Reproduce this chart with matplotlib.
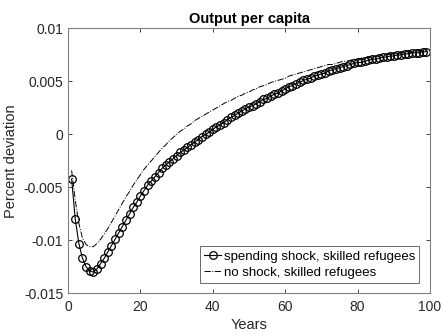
import numpy as np
import matplotlib
matplotlib.use('Agg')
import matplotlib.pyplot as plt

plt.rcParams['font.family'] = ['Liberation Sans', 'DejaVu Sans']

years = list(range(1, 100))

spending_shock = [
    -0.0042, -0.0080, -0.0103, -0.0117, -0.0125, -0.0129, -0.0130, -0.0127, -0.0122, -0.0117,
    -0.0111, -0.0105, -0.0099, -0.0093, -0.0087, -0.0081, -0.0075, -0.0069, -0.0064, -0.0058,
    -0.0053, -0.0048, -0.0044, -0.0040, -0.0036, -0.0032, -0.0029, -0.0026, -0.0023, -0.0020,
    -0.0017, -0.0015, -0.0012, -0.0010, -0.0007, -0.0005, -0.0002, 0.0000, 0.0002, 0.0005,
    0.0007, 0.0009, 0.0011, 0.0014, 0.0016, 0.0018, 0.0020, 0.0022, 0.0024, 0.0026,
    0.0027, 0.0029, 0.0031, 0.0033, 0.0034, 0.0036, 0.0038, 0.0039, 0.0041, 0.0043,
    0.0045, 0.0046, 0.0048, 0.0049, 0.0051, 0.0052, 0.0053, 0.0055, 0.0056, 0.0057,
    0.0058, 0.0060, 0.0061, 0.0062, 0.0063, 0.0064, 0.0065, 0.0066, 0.0067, 0.0068,
    0.0068, 0.0069, 0.0070, 0.0071, 0.0071, 0.0072, 0.0073, 0.0073, 0.0074, 0.0074,
    0.0075, 0.0075, 0.0076, 0.0076, 0.0077, 0.0077, 0.0077, 0.0078, 0.0078,
]

no_shock = [
    -0.0034, -0.0062, -0.0084, -0.0098, -0.0104, -0.0106, -0.0106, -0.0103, -0.0099, -0.0094,
    -0.0089, -0.0083, -0.0077, -0.0071, -0.0065, -0.0059, -0.0054, -0.0048, -0.0043, -0.0038,
    -0.0033, -0.0029, -0.0025, -0.0021, -0.0017, -0.0013, -0.0010, -0.0006, -0.0003, 0.0000,
    0.0003, 0.0005, 0.0008, 0.0010, 0.0013, 0.0015, 0.0017, 0.0019, 0.0021, 0.0023,
    0.0025, 0.0027, 0.0029, 0.0031, 0.0032, 0.0034, 0.0036, 0.0037, 0.0039, 0.0040,
    0.0042, 0.0043, 0.0045, 0.0046, 0.0047, 0.0049, 0.0050, 0.0051, 0.0052, 0.0053,
    0.0055, 0.0056, 0.0057, 0.0058, 0.0059, 0.0060, 0.0061, 0.0062, 0.0063, 0.0064,
    0.0065, 0.0066, 0.0066, 0.0067, 0.0068, 0.0069, 0.0069, 0.0070, 0.0071, 0.0071,
    0.0072, 0.0072, 0.0073, 0.0073, 0.0074, 0.0074, 0.0075, 0.0075, 0.0076, 0.0076,
    0.0076, 0.0077, 0.0077, 0.0077, 0.0078, 0.0078, 0.0078, 0.0079, 0.0079,
]

x_ticks = [0, 20, 40, 60, 80, 100]
y_ticks = [-0.015, -0.01, -0.005, 0, 0.005, 0.01]
y_tick_labels = ['-0.015', '-0.01', '-0.005', '0', '0.005', '0.01']

gray = '#262626'

fig = plt.figure(figsize=(4.43, 3.35), dpi=100)
ax = fig.add_axes([0.1535, 0.1245, 0.8172, 0.7905])

ax.plot(years, spending_shock, color='black', lw=0.8, marker='o', markersize=5.5,
        markerfacecolor='none', markeredgewidth=0.9, label='spending shock, skilled refugees')
ax.plot(years, no_shock, color='black', lw=0.7, ls='-.', label='no shock, skilled refugees')

ax.set_xlim(0, 100)
ax.set_ylim(-0.015, 0.01)
ax.set_xticks(x_ticks)
ax.set_yticks(y_ticks)
ax.set_yticklabels(y_tick_labels)
ax.tick_params(direction='in', top=True, right=True, length=3, width=0.6,
               colors=gray, labelsize=10, labelcolor=gray)
ax.tick_params(axis='x', pad=5)
for s in ax.spines.values():
    s.set_color('#808080')
    s.set_linewidth(0.8)

ax.set_title('Output per capita', fontsize=10.5, fontweight='bold', pad=4)
ax.set_xlabel('Years', fontsize=10.5, color=gray, labelpad=3)
ax.set_ylabel('Percent deviation', fontsize=10.5, color=gray, labelpad=4)

leg = ax.legend(loc='lower right', fontsize=9.5, frameon=True, fancybox=False,
                borderpad=0.3, handlelength=1.3, handletextpad=0.2, labelspacing=0.3,
                borderaxespad=0.8)
leg.get_frame().set_edgecolor('#262626')
leg.get_frame().set_linewidth(0.6)

fig.savefig('out.png', dpi=100)
